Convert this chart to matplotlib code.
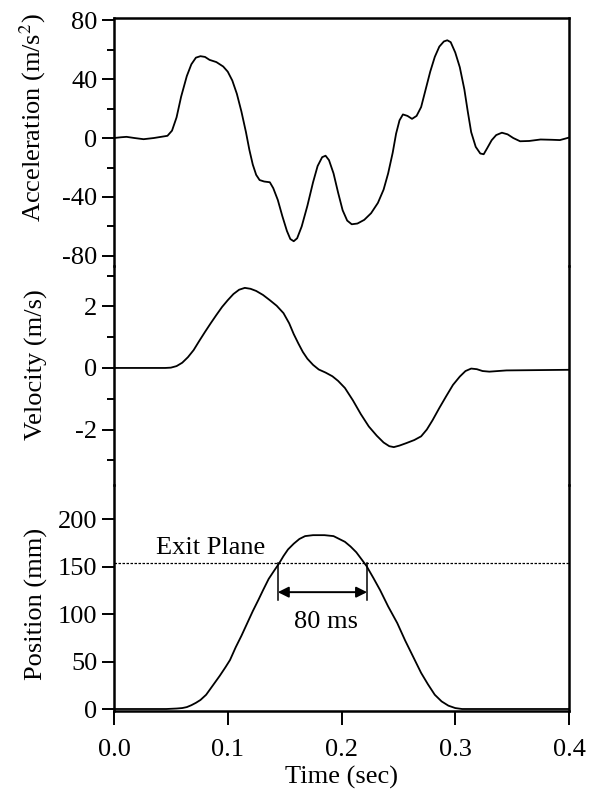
import matplotlib
matplotlib.use("Agg")
import matplotlib.pyplot as plt
from matplotlib.ticker import MultipleLocator

plt.rcParams['font.family'] = ['Liberation Serif', 'DejaVu Serif']
plt.rcParams['mathtext.fontset'] = 'stix'
plt.rcParams['axes.unicode_minus'] = False

# ---- data ----
acc_t = [0.000, 0.006, 0.011, 0.018, 0.026, 0.035, 0.043, 0.047, 0.051, 0.055, 0.059,
         0.064, 0.068, 0.072, 0.076, 0.080, 0.084, 0.090, 0.096, 0.100, 0.104, 0.108,
         0.112, 0.116, 0.119, 0.122, 0.125, 0.128, 0.132, 0.137, 0.140, 0.144, 0.148,
         0.152, 0.155, 0.158, 0.161, 0.165, 0.170, 0.175, 0.179, 0.183, 0.186, 0.189,
         0.193, 0.197, 0.201, 0.205, 0.209, 0.214, 0.220, 0.226, 0.232, 0.237, 0.241,
         0.245, 0.248, 0.251, 0.254, 0.258, 0.262, 0.266, 0.270, 0.274, 0.278, 0.282,
         0.286, 0.290, 0.293, 0.296, 0.300, 0.304, 0.308, 0.311, 0.314, 0.318, 0.322,
         0.325, 0.328, 0.332, 0.336, 0.341, 0.346, 0.351, 0.357, 0.365, 0.375, 0.385,
         0.392, 0.400]
acc_v = [0.0, 0.5, 0.8, 0.0, -0.8, 0.0, 1.0, 1.5, 5.0, 14.0, 28.0,
         42.0, 50.0, 54.5, 55.5, 55.0, 53.0, 51.5, 48.5, 45.0, 39.0, 30.0,
         18.0, 4.0, -8.0, -18.0, -25.0, -28.5, -29.5, -30.0, -34.0, -42.0, -53.0,
         -63.0, -68.5, -70.0, -68.0, -60.0, -46.0, -30.0, -19.0, -13.0, -12.0, -15.0,
         -24.0, -37.0, -49.0, -56.0, -58.5, -58.0, -55.5, -51.0, -44.0, -35.0, -24.0,
         -10.0, 3.0, 12.0, 16.0, 15.0, 13.0, 15.0, 21.0, 33.0, 45.0, 55.0,
         62.0, 65.5, 66.3, 65.0, 58.0, 48.0, 33.0, 18.0, 4.0, -6.0, -10.5,
         -11.0, -7.0, -1.5, 2.0, 3.6, 2.5, 0.0, -2.2, -2.0, -1.0, -1.2,
         -1.4, 0.3]

vel_t = [0.000, 0.045, 0.050, 0.055, 0.060, 0.065, 0.070, 0.075, 0.080, 0.085, 0.090,
         0.095, 0.100, 0.105, 0.110, 0.115, 0.120, 0.125, 0.131, 0.137, 0.143, 0.149,
         0.154, 0.158, 0.162, 0.166, 0.170, 0.175, 0.180, 0.186, 0.192, 0.197, 0.203,
         0.210, 0.217, 0.224, 0.231, 0.237, 0.242, 0.246, 0.251, 0.257, 0.264, 0.270,
         0.275, 0.280, 0.286, 0.292, 0.298, 0.304, 0.309, 0.314, 0.319, 0.324, 0.330,
         0.345, 0.400]
vel_v = [0.0, 0.0, 0.01, 0.06, 0.17, 0.35, 0.58, 0.88, 1.17, 1.45, 1.72,
         1.98, 2.20, 2.40, 2.54, 2.60, 2.57, 2.50, 2.37, 2.20, 2.02, 1.78,
         1.45, 1.10, 0.80, 0.52, 0.30, 0.10, -0.05, -0.15, -0.27, -0.42, -0.65,
         -1.05, -1.50, -1.90, -2.20, -2.42, -2.54, -2.57, -2.52, -2.44, -2.34, -2.22,
         -2.00, -1.70, -1.30, -0.92, -0.55, -0.28, -0.10, -0.02, -0.04, -0.10, -0.12,
         -0.08, -0.06]

pos_t = [0.000, 0.046, 0.055, 0.060, 0.064, 0.068, 0.072, 0.076, 0.081, 0.087, 0.093,
         0.098, 0.102, 0.107, 0.112, 0.117, 0.122, 0.127, 0.131, 0.136, 0.141, 0.145,
         0.149, 0.153, 0.158, 0.163, 0.168, 0.175, 0.185, 0.193, 0.198, 0.203, 0.208,
         0.213, 0.218, 0.222, 0.228, 0.234, 0.241, 0.249, 0.256, 0.263, 0.270, 0.276,
         0.282, 0.288, 0.294, 0.300, 0.306, 0.400]
pos_v = [0.0, 0.0, 0.5, 1.0, 2.0, 4.0, 6.5, 9.5, 15.0, 25.0, 35.0,
         44.0, 51.6, 65.0, 77.0, 90.0, 103.0, 115.0, 125.0, 137.0, 146.0, 153.0,
         161.0, 168.0, 174.0, 179.0, 182.0, 183.0, 183.0, 182.0, 179.0, 176.0, 171.0,
         165.0, 157.0, 150.5, 138.0, 125.0, 108.0, 90.5, 72.0, 55.0, 38.0, 26.0,
         15.0, 8.0, 3.5, 1.0, 0.0, 0.0]

exit_plane = 154.0
exit_start, exit_end = 0.144, 0.2225
x_ticks = [0.0, 0.1, 0.2, 0.3, 0.4]
x_ticklabels = ["0.0", "0.1", "0.2", "0.3", "0.4"]

# ---- figure ----
W, H = 591, 793
fig = plt.figure(figsize=(W / 100, H / 100), dpi=100)

left, right = 114 / W, 569 / W
def fy(p):
    return 1 - p / H

bounds = [(18, 266), (266, 485), (485, 711)]
axes = []
for top_px, bot_px in bounds:
    ax = fig.add_axes([left, fy(bot_px), right - left, fy(top_px) - fy(bot_px)])
    axes.append(ax)
ax_a, ax_v, ax_p = axes

lw = 1.3
fs_tick = 19
fs_lab = 19

ax_a.plot(acc_t, acc_v, color='black', lw=lw)
ax_v.plot(vel_t, vel_v, color='black', lw=lw)
ax_p.plot(pos_t, pos_v, color='black', lw=lw)

ax_a.set_ylim(-86.8, 81.4)
ax_v.set_ylim(-3.8, 3.31)
ax_p.set_ylim(-2.1, 235.8)

ax_a.yaxis.set_major_locator(MultipleLocator(40))
ax_a.yaxis.set_minor_locator(MultipleLocator(20))
ax_v.yaxis.set_major_locator(MultipleLocator(2))
ax_v.yaxis.set_minor_locator(MultipleLocator(1))
ax_p.yaxis.set_major_locator(MultipleLocator(50))

for ax in axes:
    ax.set_xlim(0, 0.4)
    for s in ax.spines.values():
        s.set_linewidth(1.8)
        s.set_capstyle('projecting')
    ax.spines['top'].set_visible(False)
    ax.spines['bottom'].set_visible(False)
    ax.tick_params(axis='y', which='major', direction='out', length=9, width=1.4,
                   labelsize=fs_tick, pad=3)
    ax.tick_params(axis='y', which='minor', direction='out', length=5, width=1.4)
    ax.tick_params(axis='x', which='both', bottom=False, top=False, labelbottom=False)
    ax.patch.set_alpha(0)

ax_a.spines['top'].set_visible(True)
ax_p.spines['bottom'].set_visible(True)
ax_p.set_xticks(x_ticks)
ax_p.set_xticklabels(x_ticklabels)
ax_p.tick_params(axis='x', which='major', bottom=True, labelbottom=True, direction='out',
                 length=10, width=1.4, labelsize=fs_tick, pad=10)
ax_p.set_xlabel("Time (sec)", fontsize=fs_lab, labelpad=4)

ax_a.set_ylabel("Acceleration (m/s$^2$)", fontsize=fs_lab)
ax_v.set_ylabel("Velocity (m/s)", fontsize=fs_lab)
ax_p.set_ylabel("Position (mm)", fontsize=fs_lab)

ax_a.yaxis.set_label_coords(-0.146, 0.60)
ax_v.yaxis.set_label_coords(-0.146, 0.548)
ax_p.yaxis.set_label_coords(-0.146, 0.473)

# Exit plane
ax_p.axhline(exit_plane, color='black', lw=0.9, ls=(0, (2, 1.2)))
ax_p.text(0.085, 170, "Exit Plane", fontsize=19, ha='center', va='center')
ax_p.plot([exit_start, exit_start], [exit_plane, 115], color='black', lw=1.1)
ax_p.plot([exit_end, exit_end], [exit_plane, 115], color='black', lw=1.1)
ax_p.annotate("", xy=(exit_start, 123), xytext=(exit_end, 123),
              arrowprops=dict(arrowstyle='<|-|>', color='black', lw=1.4,
                              mutation_scale=16, shrinkA=0, shrinkB=0))
ax_p.text(0.186, 92, "80 ms", fontsize=19, ha='center', va='center')

fig.savefig("out.png", dpi=100)
